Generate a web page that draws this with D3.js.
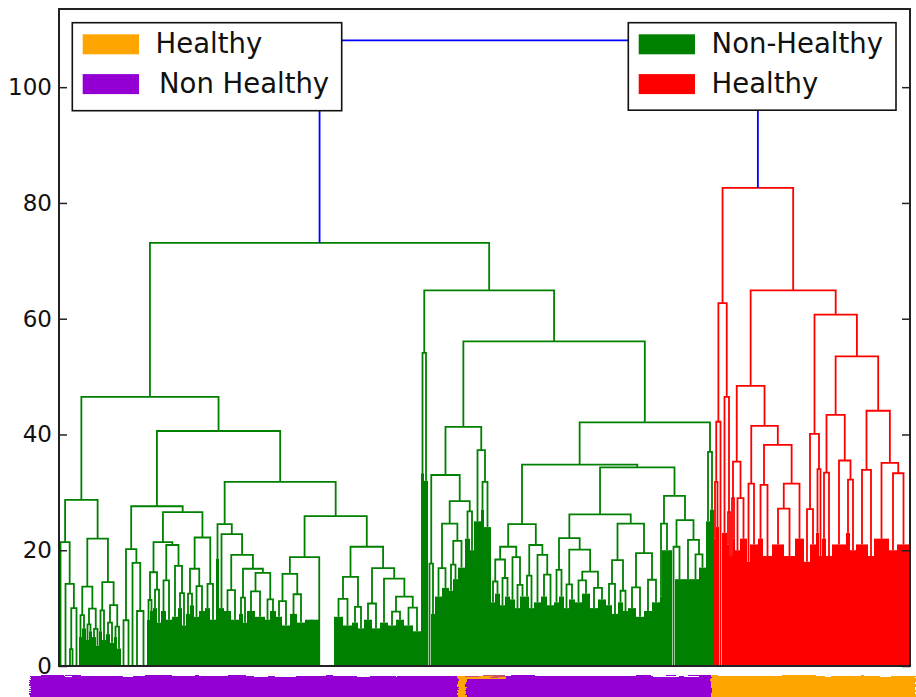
<!DOCTYPE html>
<html>
<head>
<meta charset="utf-8">
<script src="https://cdn.jsdelivr.net/npm/d3@7"></script>
<style>
  html, body { margin: 0; padding: 0; background: #fff; }
  svg { display: block; }
</style>
</head>
<body>
<svg id="chart" width="916" height="697"></svg>
<script>
// ---- Dendrogram data ----
// Internal node: [mergeHeight, left, right]; leaf block: [leafCount, blockHeight]
// (blockHeight is the top of the dense run of low merges inside the block; 0 = merged flat).
const rootHeight = 108.1;
const greenHeight = 73.1;

const greenLeft = [46.5,
  [28.7,
    [21.4, [3, 0], [14.2, [7, 0], [10.0, [2.9, [2, 0], [3, 0]], [5, 0]]]],
    [22.0,
      [13.7, [8.8, [3, 5], [4, 6.5]], [9.9, [7.2, [3, 4.5], [3, 6]], [6.4, [4, 5], [3, 3.5]]]],
      [14.5, [9.6, [3, 6], [4, 4.5]], [10.5, [7.5, [4, 5.5], [4, 4]], [6.8, [3, 5], [4, 3]]]]]],
  [40.6,
    [27.6,
      [20.2, [7.9, [5, 0], [5, 0]], [17.8, [3, 0], [9.5, [6, 0], [7, 0]]]],
      [26.6,
        [21.4,
          [16.2, [11.4, [3, 8], [3, 9.5]], [13.2, [4, 10], [4, 7.5]]],
          [20.9, [14.8, [5, 9.5], [6, 8]], [17.3, [6, 8.5], [12.6, [4, 10], [4, 7]]]]],
        [22.2,
          [16.8, [12.5, [4, 9], [4, 10.5]], [13.8, [5, 8.5], [6, 9.5]]],
          [14.2, [5, 10], [6, 8]]]]],
    [31.8,
      [24.5, [3, 18.5],
        [22.8, [5, 10],
          [19.2, [13.1, [7, 9.5], [8, 8]],
            [16.8, [11.8, [4, 9], [4, 7.5]],
              [16.1, [12.9, [8, 9.5], [10, 8.5]], [11.5, [5, 8], [6, 9.5]]]]]]],
      [25.9,
        [18.8,
          [15.9, [11.2, [6, 8.5], [8, 7]], [12.4, [7, 9], [8, 7.5]]],
          [0, [14, 8], [15, 0]]],
        [20.6,
          [15.4, [11.6, [9, 8.5], [9, 7]], [10.2, [6, 7.5], [6, 6.5]]],
          [16.9, [10.8, [8, 8], [8, 6.5]],
            [15.1, [8, 7.5], [12.0, [9.4, [8, 7], [8, 8]], [10.1, [9, 7], [8, 6]]]]]]]]]];

const greenRight = [64.9,
  [54.1, [3, 33.3], [4, 32]],
  [56.1,
    [41.3,
      [33.0, [17.7, [3, 0], [4, 9]],
        [28.5,
          [24.6, [16.9, [7, 12], [7, 13.5]], [21.6, [17.5, [4, 13], [5, 15]], [7, 17]]],
          [26.7, [5, 22], [4, 20]]]],
      [37.3, [7, 25], [31.8, [3, 27], [7, 24]]]],
    [42.1,
      [34.8,
        [24.5,
          [20.6,
            [18.4, [14.6, [4, 11], [5, 12.5]], [15.2, [5, 10.5], [5, 12]]],
            [18.8, [5, 11.5], [14.0, [5, 10], [5, 12]]]],
          [20.9,
            [15.6, [4, 12], [5, 10]],
            [19.2, [7, 11], [15.8, [6, 12], [7, 10.5]]]]],
        [34.3,
          [26.2,
            [22.1,
              [16.6, [5, 11], [5, 12]],
              [20.1, [14.1, [5, 10], [6, 11.5]],
                [16.3, [14.8, [7, 11], [8, 12.5]], [13.5, [8, 10], [8, 11.5]]]]],
            [24.6,
              [18.3, [14.2, [6, 10.5], [6, 9]], [13.0, [5, 11], [5, 9.5]]],
              [19.5, [13.6, [8, 10], [8, 8.5]], [14.9, [8, 9.5], [8, 11]]]]],
          [29.4,
            [24.6, [2, 12], [10, 20]],
            [25.2, [20.6, [3, 0], [9, 15]], [21.8, [8, 15], [19.3, [7, 15], [7, 17]]]]]]],
      [37.0, [4, 25], [4, 27]]]]];

const redTree = [82.6,
  [62.7, [42.2, [31.8, [2, 22], [3, 24]], [3, 0]], [46.5, [5, 23], [26.6, [2, 21], [2, 19]]]],
  [64.9,
    [48.4,
      [35.3, [29.0, [2, 19], [2, 22]], [29.0, [5, 20], [7, 22]]],
      [41.5, [31.5, [3, 18], [8, 21]],
        [38.2, [31.3, [5, 22], [9, 19]], [31.5, [27.2, [12, 21], [11, 19]], [9, 22]]]]],
    [60.7,
      [40.1, [27.1, [6, 18], [6, 21]], [34.0, [3, 23], [3, 19]]],
      [53.5,
        [43.4, [33.4, [4, 22], [6, 19]], [35.5, [14, 21], [32.2, [4, 23], [6, 20]]]],
        [44.1, [33.9, [12, 21], [6, 19]], [35.1, [15, 22], [33.3, [8, 20], [13, 21]]]]]]]];

const yTicks = [0, 20, 40, 60, 80, 100];

// Legend entries
const truthLabels = ['Healthy', 'Non Healthy'];
const clusterLabels = ['Non-Healthy', 'Healthy'];

// True class of each leaf run, in leaf units along the x axis: [from, to, label, kind]
const truthSegments = [
  [-29, 652, 'Non Healthy', 'band'],
  [652, 857, 'Healthy', 'band'],
  [399, 407, 'Healthy', 'band'],
  [407, 447, 'Healthy', 'edge']
];

// ---- Styles ----
const clusterColor = { 'Non-Healthy': '#008000', 'Healthy': '#ff0000' };
const truthColor = { 'Healthy': '#ffa500', 'Non Healthy': '#9400d3' };
const aboveThresholdColor = '#0000ff';
const FONT = "'DejaVu Sans', 'Liberation Sans', sans-serif";

// ---- Layout ----
const plot = { left: 59, right: 910, top: 9, bottom: 666 };

function build(node, start) {
  if (node.length === 2) {
    const [n, h] = node;
    return { leaf: true, n, h, x0: start, x1: start + n, x: start + n / 2, end: start + n };
  }
  const l = build(node[1], start);
  const r = build(node[2], l.end);
  return { leaf: false, h: node[0], l, r, x: (l.x + r.x) / 2, end: r.end };
}

const green = build([greenHeight, greenLeft, greenRight], 0);
const red = build(redTree, green.end);
const nLeaves = red.end;
const root = { leaf: false, h: rootHeight, l: green, r: red, x: (green.x + red.x) / 2 };

const x = d3.scaleLinear().domain([0, nLeaves]).range([plot.left, plot.right]);
const y = d3.scaleLinear().domain([0, rootHeight * 1.05]).range([plot.bottom, plot.top]);

const links = [], blocks = [];
function walk(node, color) {
  if (node.leaf) { blocks.push({ ...node, color }); return; }
  links.push({ node, color });
  walk(node.l, color);
  walk(node.r, color);
}
walk(green, clusterColor['Non-Healthy']);
walk(red, clusterColor['Healthy']);
links.push({ node: root, color: aboveThresholdColor });

const svg = d3.select('#chart');
svg.append('rect').attr('width', 916).attr('height', 697).attr('fill', '#fff');

const defs = svg.append('defs');
defs.append('clipPath').attr('id', 'plotClip')
  .append('rect')
  .attr('x', plot.left).attr('y', plot.top)
  .attr('width', plot.right - plot.left).attr('height', plot.bottom - plot.top);

const brush = defs.append('filter').attr('id', 'brush')
  .attr('x', '-5%').attr('y', '-40%').attr('width', '110%').attr('height', '180%');
brush.append('feTurbulence').attr('type', 'fractalNoise')
  .attr('baseFrequency', '0.04 0.6').attr('numOctaves', 2).attr('seed', 3).attr('result', 'noise');
brush.append('feDisplacementMap').attr('in', 'SourceGraphic').attr('in2', 'noise')
  .attr('scale', 5).attr('xChannelSelector', 'R').attr('yChannelSelector', 'G');

const plotG = svg.append('g').attr('clip-path', 'url(#plotClip)');

// dense blocks of low-level merges
plotG.append('g').selectAll('rect')
  .data(blocks.filter(d => d.h > 0))
  .join('rect')
  .attr('x', d => x(d.x0))
  .attr('width', d => x(d.x1) - x(d.x0))
  .attr('y', d => y(d.h))
  .attr('height', d => y(0) - y(d.h))
  .attr('fill', d => d.color);

// U-shaped merge links
plotG.append('g').selectAll('path')
  .data(links)
  .join('path')
  .attr('d', d => {
    const n = d.node;
    return `M${x(n.l.x)},${y(n.l.h)}V${y(n.h)}H${x(n.r.x)}V${y(n.r.h)}`;
  })
  .attr('fill', 'none')
  .attr('stroke', d => d.color)
  .attr('stroke-width', 1.8);

// axes
const axL = svg.append('g').attr('transform', `translate(${plot.left},0)`)
  .call(d3.axisLeft(y).tickValues(yTicks).tickFormat(d3.format('d'))
    .tickSizeInner(-8).tickSizeOuter(0).tickPadding(7));
const axR = svg.append('g').attr('transform', `translate(${plot.right},0)`)
  .call(d3.axisRight(y).tickValues(yTicks).tickFormat(() => '')
    .tickSizeInner(-8).tickSizeOuter(0));
[axL, axR].forEach(g => {
  g.select('.domain').remove();
  g.selectAll('line').attr('stroke', '#222').attr('stroke-width', 1.5);
  g.selectAll('text').attr('font-family', FONT).attr('font-size', 23).attr('fill', '#111');
});

svg.append('rect')
  .attr('x', plot.left).attr('y', plot.top)
  .attr('width', plot.right - plot.left).attr('height', plot.bottom - plot.top)
  .attr('fill', 'none').attr('stroke', '#222').attr('stroke-width', 2);

// legends
function legend(box, labels, colors, textX) {
  const g = svg.append('g');
  g.append('rect').attr('x', box.x).attr('y', box.y).attr('width', box.w).attr('height', box.h)
    .attr('fill', '#fff').attr('stroke', '#111').attr('stroke-width', 1.6);
  labels.forEach((lab, i) => {
    const rowY = box.y + 11.6 + i * 39.8;
    g.append('rect').attr('x', box.x + 10.4).attr('y', rowY).attr('width', 56.3).attr('height', 20)
      .attr('fill', colors[lab]);
    g.append('text').attr('x', textX[i]).attr('y', rowY + 19)
      .attr('font-family', FONT).attr('font-size', 27.5).attr('fill', '#111').text(lab);
  });
}
legend({ x: 72.3, y: 22.7, w: 269.4, h: 88 }, truthLabels, truthColor, [155.6, 159]);
legend({ x: 628.3, y: 22.7, w: 267.7, h: 87.5 }, clusterLabels, clusterColor, [711.6, 711.6]);

// true-class strip under the leaves
const strip = svg.append('g').attr('filter', 'url(#brush)');
strip.selectAll('rect')
  .data(truthSegments)
  .join('rect')
  .attr('x', d => x(d[0]))
  .attr('width', d => x(d[1]) - x(d[0]))
  .attr('y', d => d[3] === 'band' ? 676 : 676.5)
  .attr('height', d => d[3] === 'band' ? 24 : 2.5)
  .attr('fill', d => truthColor[d[2]]);
</script>
</body>
</html>
